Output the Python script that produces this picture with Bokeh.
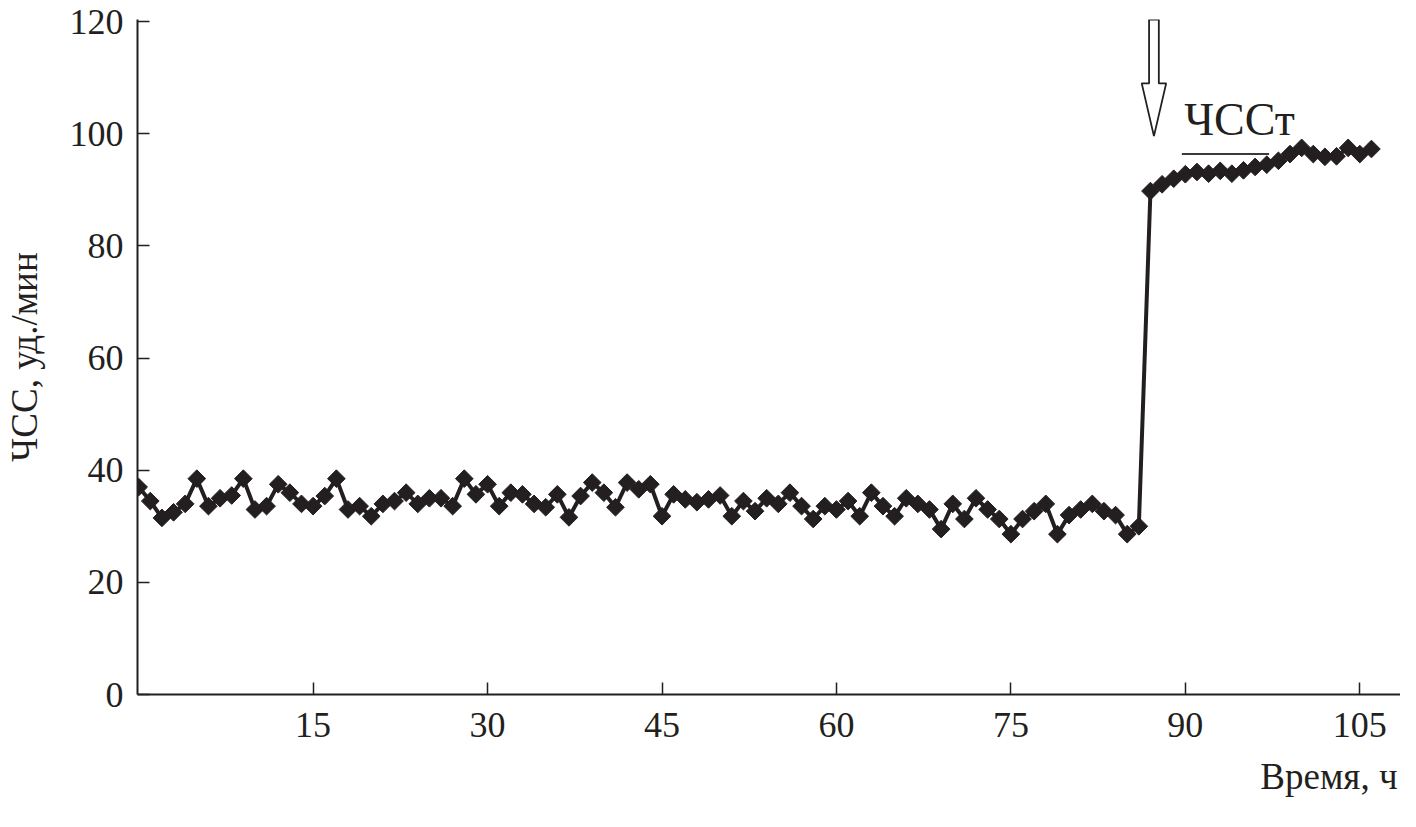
import numpy as np
from bokeh.plotting import figure
from bokeh.models import Range1d, FixedTicker, Label, Title
from bokeh.embed import file_html
from bokeh.resources import INLINE

# ---- data (hours, heart rate) ----
hours = list(range(0, 107))
hr_before = [37, 34.5, 31.5, 32.5, 34, 38.5, 33.6, 35, 35.5, 38.5,
             33, 33.6, 37.5, 36, 34, 33.6, 35.4, 38.5, 33, 33.6,
             31.8, 34, 34.5, 36, 34, 35, 35, 33.6, 38.5, 35.7,
             37.5, 33.6, 36, 35.7, 34, 33.4, 35.7, 31.6, 35.4, 37.8,
             36, 33.4, 37.8, 36.6, 37.5, 31.8, 35.7, 34.8, 34.3, 34.8,
             35.5, 31.8, 34.5, 32.7, 35, 34, 36, 33.6, 31.3, 33.6,
             33, 34.5, 31.8, 36, 33.6, 31.8, 35, 34, 33, 29.5,
             34, 31.3, 35, 33, 31.3, 28.6, 31.3, 32.7, 34, 28.6,
             32, 33, 34, 32.7, 32, 28.6, 30]
hr_after = [89.8, 91, 92, 92.8, 93.2, 92.9, 93.4, 92.9, 93.5, 94.1,
            94.5, 95.2, 96.4, 97.5, 96.4, 95.9, 96, 97.5, 96.4, 97.3]
hr = hr_before + hr_after

x_ticks = [15, 30, 45, 60, 75, 90, 105]
y_ticks = [0, 20, 40, 60, 80, 100, 120]

# annotation: ЧССт level and the arrow marking the change
hsst_level = 96.4
hsst_x = (89.7, 97.2)
hsst_label_pos = (89.9, 98.0)
arrow_x = 87.3
arrow_top, arrow_neck, arrow_tip = 120.4, 109.0, 99.6
arrow_shaft_hw, arrow_head_hw = 0.42, 1.05

FONT = "Liberation Serif"
INK = "#231f20"

p = figure(width=1400, height=811, output_backend="svg", toolbar_location=None,
           x_range=Range1d(-0.1, 108.5), y_range=Range1d(0, 120.4),
           min_border_left=129, min_border_right=0, min_border_top=19,
           min_border_bottom=117)
p.outline_line_color = None
p.grid.visible = False
p.background_fill_color = "white"

# axes
for ax in (p.xaxis, p.yaxis):
    ax.axis_line_width = 2
    ax.axis_line_color = INK
    ax.major_tick_line_color = INK
    ax.major_tick_line_width = 1.5
    ax.major_tick_in = 12
    ax.major_tick_out = 0
    ax.minor_tick_line_color = None
    ax.major_label_text_font = FONT
    ax.major_label_text_font_size = "36px"
    ax.major_label_text_color = INK

p.xaxis.ticker = FixedTicker(ticks=x_ticks)
p.yaxis.ticker = FixedTicker(ticks=y_ticks)
p.xaxis.major_label_standoff = 18
p.yaxis.major_label_standoff = 14

p.yaxis.axis_label = "ЧСС, уд./мин"
p.yaxis.axis_label_text_font = FONT
p.yaxis.axis_label_text_font_size = "37px"
p.yaxis.axis_label_text_font_style = "normal"
p.yaxis.axis_label_text_color = INK
p.yaxis.axis_label_standoff = 22

# x axis title at the lower right
p.add_layout(Title(text="Время, ч", align="right", text_font=FONT,
                   text_font_size="37px", text_font_style="normal",
                   text_color=INK, standoff=29, offset=3), "below")

# data
p.line(hours, hr, line_color=INK, line_width=4)
p.scatter(hours, hr, marker="square", angle=np.pi / 4, size=12.5,
          fill_color=INK, line_color=INK)

# ЧССт level line and label
p.line(list(hsst_x), [hsst_level, hsst_level], line_color="#3a3a3a", line_width=2)
p.add_layout(Label(x=hsst_label_pos[0], y=hsst_label_pos[1], text="ЧССт",
                   text_font=FONT, text_font_size="46px", text_color=INK))

# hollow arrow
ax_ = [arrow_x - arrow_shaft_hw, arrow_x + arrow_shaft_hw, arrow_x + arrow_shaft_hw,
       arrow_x + arrow_head_hw, arrow_x, arrow_x - arrow_head_hw,
       arrow_x - arrow_shaft_hw]
ay_ = [arrow_top, arrow_top, arrow_neck, arrow_neck, arrow_tip, arrow_neck, arrow_neck]
p.patch(ax_, ay_, fill_color="white", line_color=INK, line_width=1.8)

open("out.html", "w").write(file_html(p, INLINE))
